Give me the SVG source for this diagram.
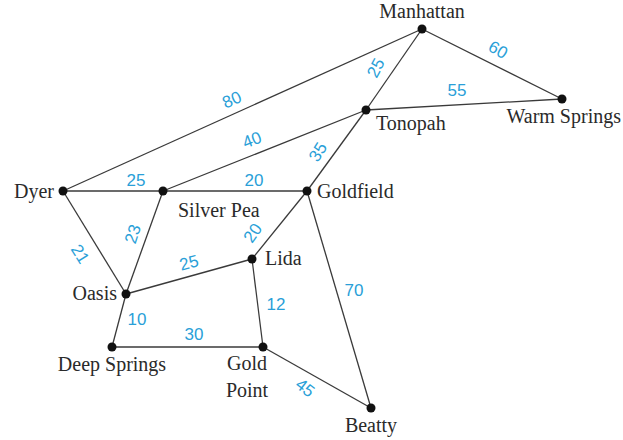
<svg xmlns="http://www.w3.org/2000/svg" width="623" height="440" viewBox="0 0 623 440">
<style>
.e{stroke:#3a3a3a;stroke-width:1.3;fill:none}
.d{fill:#111}
.n{font-family:"Liberation Serif",serif;font-size:20px;fill:#2a2a2a}
.w{font-family:"Liberation Sans",sans-serif;font-size:17px;fill:#2a9fd8;text-anchor:middle;dominant-baseline:central}
</style>
<rect width="623" height="440" fill="#fff"/>
<g id="edges">
<line class="e" x1="63" y1="191" x2="422" y2="29"/>
<line class="e" x1="422" y1="29" x2="366" y2="110"/>
<line class="e" x1="422" y1="29" x2="562" y2="99"/>
<line class="e" x1="366" y1="110" x2="562" y2="99"/>
<line class="e" x1="163" y1="191" x2="366" y2="110"/>
<line class="e" x1="366" y1="110" x2="307" y2="191"/>
<line class="e" x1="63" y1="191" x2="307" y2="191"/>
<line class="e" x1="63" y1="191" x2="126" y2="294"/>
<line class="e" x1="163" y1="191" x2="126" y2="294"/>
<line class="e" x1="307" y1="191" x2="252" y2="259"/>
<line class="e" x1="307" y1="191" x2="371" y2="408"/>
<line class="e" x1="126" y1="294" x2="252" y2="259"/>
<line class="e" x1="252" y1="259" x2="263" y2="347"/>
<line class="e" x1="126" y1="294" x2="112" y2="347"/>
<line class="e" x1="112" y1="347" x2="263" y2="347"/>
<line class="e" x1="263" y1="347" x2="371" y2="408"/>
</g>
<g id="weights">
<text class="w" transform="translate(498,50) rotate(30)">60</text>
<text class="w" transform="translate(376,68) rotate(-62)">25</text>
<text class="w" x="457" y="90">55</text>
<text class="w" transform="translate(232,100) rotate(-24)">80</text>
<text class="w" transform="translate(252,140) rotate(-21)">40</text>
<text class="w" transform="translate(318,152) rotate(-58)">35</text>
<text class="w" x="136" y="180">25</text>
<text class="w" x="254" y="180">20</text>
<text class="w" transform="translate(80,254) rotate(58)">21</text>
<text class="w" transform="translate(133,234) rotate(-72)">23</text>
<text class="w" transform="translate(253,233) rotate(-55)">20</text>
<text class="w" transform="translate(189,263) rotate(-15)">25</text>
<text class="w" x="354" y="290">70</text>
<text class="w" x="276" y="304">12</text>
<text class="w" x="137" y="319">10</text>
<text class="w" x="194" y="334">30</text>
<text class="w" transform="translate(305,388) rotate(38)">45</text>
</g>
<g id="Manhattan"><circle class="d" cx="422" cy="29" r="4.5"/><text class="n" x="422" y="18" text-anchor="middle">Manhattan</text></g>
<g id="WarmSprings"><circle class="d" cx="562" cy="99" r="4.5"/><text class="n" x="621" y="123" text-anchor="end">Warm Springs</text></g>
<g id="Tonopah"><circle class="d" cx="366" cy="110" r="4.5"/><text class="n" x="376" y="130">Tonopah</text></g>
<g id="Dyer"><circle class="d" cx="63" cy="191" r="4.5"/><text class="n" x="54" y="198" text-anchor="end">Dyer</text></g>
<g id="SilverPea"><circle class="d" cx="163" cy="191" r="4.5"/><text class="n" x="178" y="217">Silver Pea</text></g>
<g id="Goldfield"><circle class="d" cx="307" cy="191" r="4.5"/><text class="n" x="317" y="198">Goldfield</text></g>
<g id="Lida"><circle class="d" cx="252" cy="259" r="4.5"/><text class="n" x="265" y="265">Lida</text></g>
<g id="Oasis"><circle class="d" cx="126" cy="294" r="4.5"/><text class="n" x="117" y="300" text-anchor="end">Oasis</text></g>
<g id="DeepSprings"><circle class="d" cx="112" cy="347" r="4.5"/><text class="n" x="112" y="371" text-anchor="middle">Deep Springs</text></g>
<g id="GoldPoint"><circle class="d" cx="263" cy="347" r="4.5"/><text class="n" x="247" y="370" text-anchor="middle">Gold</text><text class="n" x="247" y="397" text-anchor="middle">Point</text></g>
<g id="Beatty"><circle class="d" cx="371" cy="408" r="4.5"/><text class="n" x="371" y="432" text-anchor="middle">Beatty</text></g>
</svg>
